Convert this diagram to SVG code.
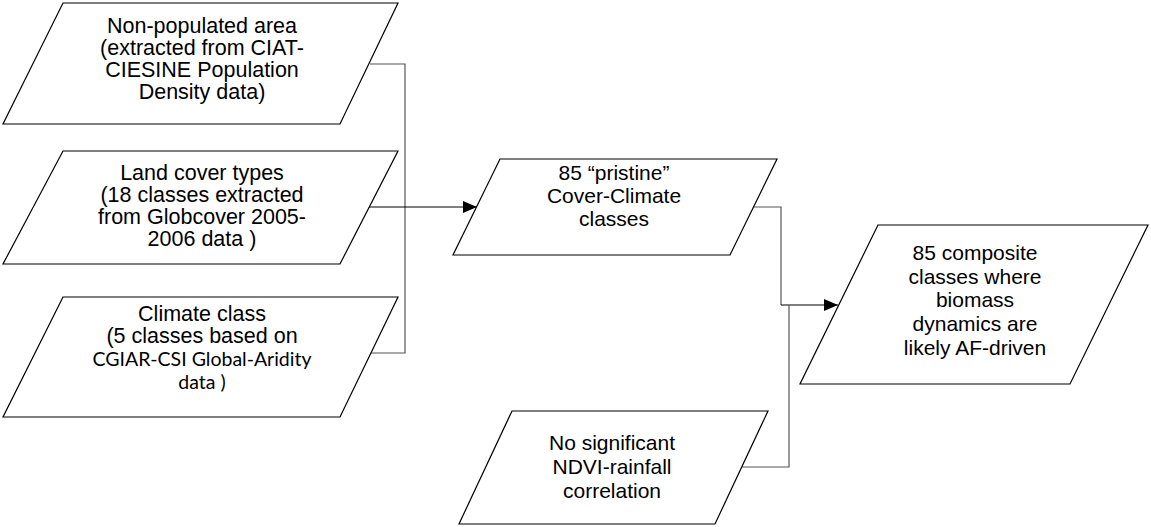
<svg xmlns="http://www.w3.org/2000/svg" width="1151" height="527" viewBox="0 0 1151 527">
<style>
.node{fill:#fff;stroke:#000;stroke-width:1.2}
.t{font-family:"Liberation Sans",Arial,sans-serif;font-size:21.5px;fill:#000;text-anchor:middle}
.s{font-size:21px}
.c{font-family:Lato,"Open Sans",sans-serif;font-size:19.5px;fill:#000;text-anchor:middle}
.br{fill:none;stroke:#555;stroke-width:1.2}
.ar{fill:none;stroke:#000;stroke-width:1.2}
</style>
<defs>
<marker id="ah" markerWidth="14" markerHeight="12" refX="14" refY="6" orient="auto" markerUnits="userSpaceOnUse">
<path d="M0,0 L14,6 L0,12 Z" fill="#000"/>
</marker>
</defs>
<rect width="1151" height="527" fill="#fff"/>
<g id="connectors">
<polyline class="br" points="370,64 405,64 405,353 368,353"/>
<line class="ar" x1="368" y1="207" x2="477" y2="207" marker-end="url(#ah)"/>
<polyline class="br" points="753,207 781,207 781,305"/>
<line class="ar" x1="781" y1="305" x2="838" y2="305" marker-end="url(#ah)"/>
<polyline class="br" points="742,467 789,467 789,305"/>
</g>
<g id="n1">
<polygon class="node" points="63,3 398,3 340,124 3,124"/>
<text class="t" x="202" y="33">Non-populated area</text>
<text class="t" x="202" y="55">(extracted from CIAT-</text>
<text class="t" x="202" y="77">CIESINE Population</text>
<text class="t" x="202" y="99">Density data)</text>
</g>
<g id="n2">
<polygon class="node" points="63,151 398,151 340,264 3,264"/>
<text class="t" x="202" y="180">Land cover types</text>
<text class="t" x="202" y="202">(18 classes extracted</text>
<text class="t" x="202" y="224">from Globcover 2005-</text>
<text class="t" x="202" y="246">2006 data )</text>
</g>
<g id="n3">
<polygon class="node" points="63,297 398,297 340,417 3,417"/>
<text class="t" x="202" y="321">Climate class</text>
<text class="t" x="202" y="343">(5 classes based on</text>
<text class="c" x="202" y="366">CGIAR-CSI Global-Aridity</text>
<text class="c" x="202" y="389">data )</text>
</g>
<g id="n4">
<polygon class="node" points="500,159 777,159 730,255 453,255"/>
<text class="t s" x="614" y="180">85 “pristine”</text>
<text class="t s" x="614" y="203">Cover-Climate</text>
<text class="t s" x="614" y="226">classes</text>
</g>
<g id="n5">
<polygon class="node" points="878,225 1148,225 1070,384 800,384"/>
<text class="t s" x="975" y="260">85 composite</text>
<text class="t s" x="975" y="284">classes where</text>
<text class="t s" x="975" y="307">biomass</text>
<text class="t s" x="975" y="331">dynamics are</text>
<text class="t s" x="975" y="355">likely AF-driven</text>
</g>
<g id="n6">
<polygon class="node" points="512,411 768,411 715,524 459,524"/>
<text class="t s" x="612" y="450">No significant</text>
<text class="t s" x="612" y="474">NDVI-rainfall</text>
<text class="t s" x="612" y="498">correlation</text>
</g>
</svg>
